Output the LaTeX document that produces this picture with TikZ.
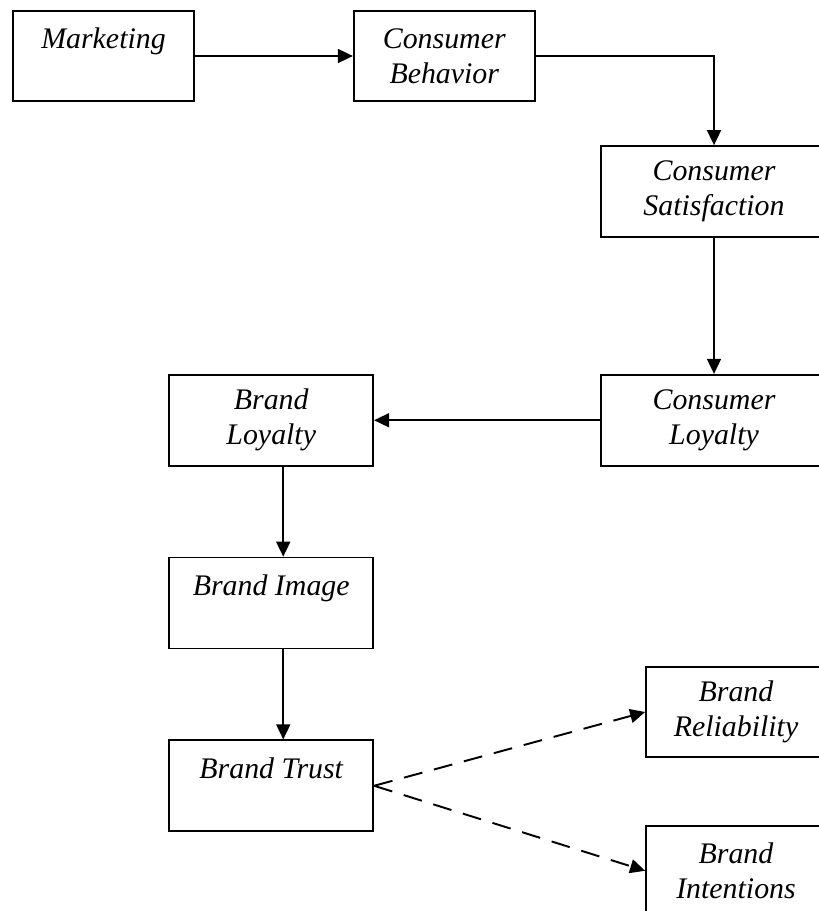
\documentclass[tikz,border=0pt]{standalone}
\usepackage{fontspec}
\setmainfont{Liberation Serif}
\usepackage{tikz}
\usetikzlibrary{arrows.meta, positioning}

\begin{document}
\begin{tikzpicture}[
  node distance=1.8cm and 3.16cm,
  box/.style={rectangle, draw=black, line width=1pt,
              minimum width=4.08cm, minimum height=1.82cm,
              align=center, font=\fontsize{17}{20}\selectfont\itshape},
  topbox/.style={box, minimum width=3.62cm, minimum height=1.8cm},
  widebox/.style={box, minimum width=4.52cm},
  sidebox/.style={box, minimum width=3.6cm, minimum height=1.8cm},
  arrow/.style={-{Triangle[length=0.3cm, width=0.28cm]}, line width=1pt},
  dasharrow/.style={arrow, line width=1.1pt, dash pattern=on 0.38cm off 0.24cm}
]
  \useasboundingbox (0,0) rectangle (16.38,-18.22);

  \node[topbox] (mkt) at (2.07,-1.12) {Marketing\\~};
  \node[topbox, right=of mkt] (behav) {Consumer\\Behavior};
  \node[widebox] (satis) at (14.28,-3.83) {Consumer\\Satisfaction};
  \node[widebox, below=2.72cm of satis] (cloyal) {Consumer\\Loyalty};
  \node[box, left=4.52cm of cloyal] (bloyal) {Brand\\Loyalty};
  \node[box, below=of bloyal] (bimage) {Brand Image\\~};
  \node[box, below=of bimage] (btrust) {Brand Trust\\~};
  \node[sidebox] (brel) at (14.72,-14.24) {Brand\\Reliability};
  \node[sidebox, below=1.34cm of brel] (bint) {Brand\\Intentions};

  \draw[arrow] (mkt) -- (behav);
  \draw[arrow] (behav.east) -| (satis.north);
  \draw[arrow] (satis) -- (cloyal);
  \draw[arrow] (cloyal) -- (bloyal);
  \draw[arrow] ([xshift=0.24cm]bloyal.south) -- ([xshift=0.24cm]bimage.north);
  \draw[arrow] ([xshift=0.24cm]bimage.south) -- ([xshift=0.24cm]btrust.north);
  \draw[dasharrow] (btrust.east) -- (brel.west);
  \draw[dasharrow] (btrust.east) -- (bint.west);
\end{tikzpicture}
\end{document}
